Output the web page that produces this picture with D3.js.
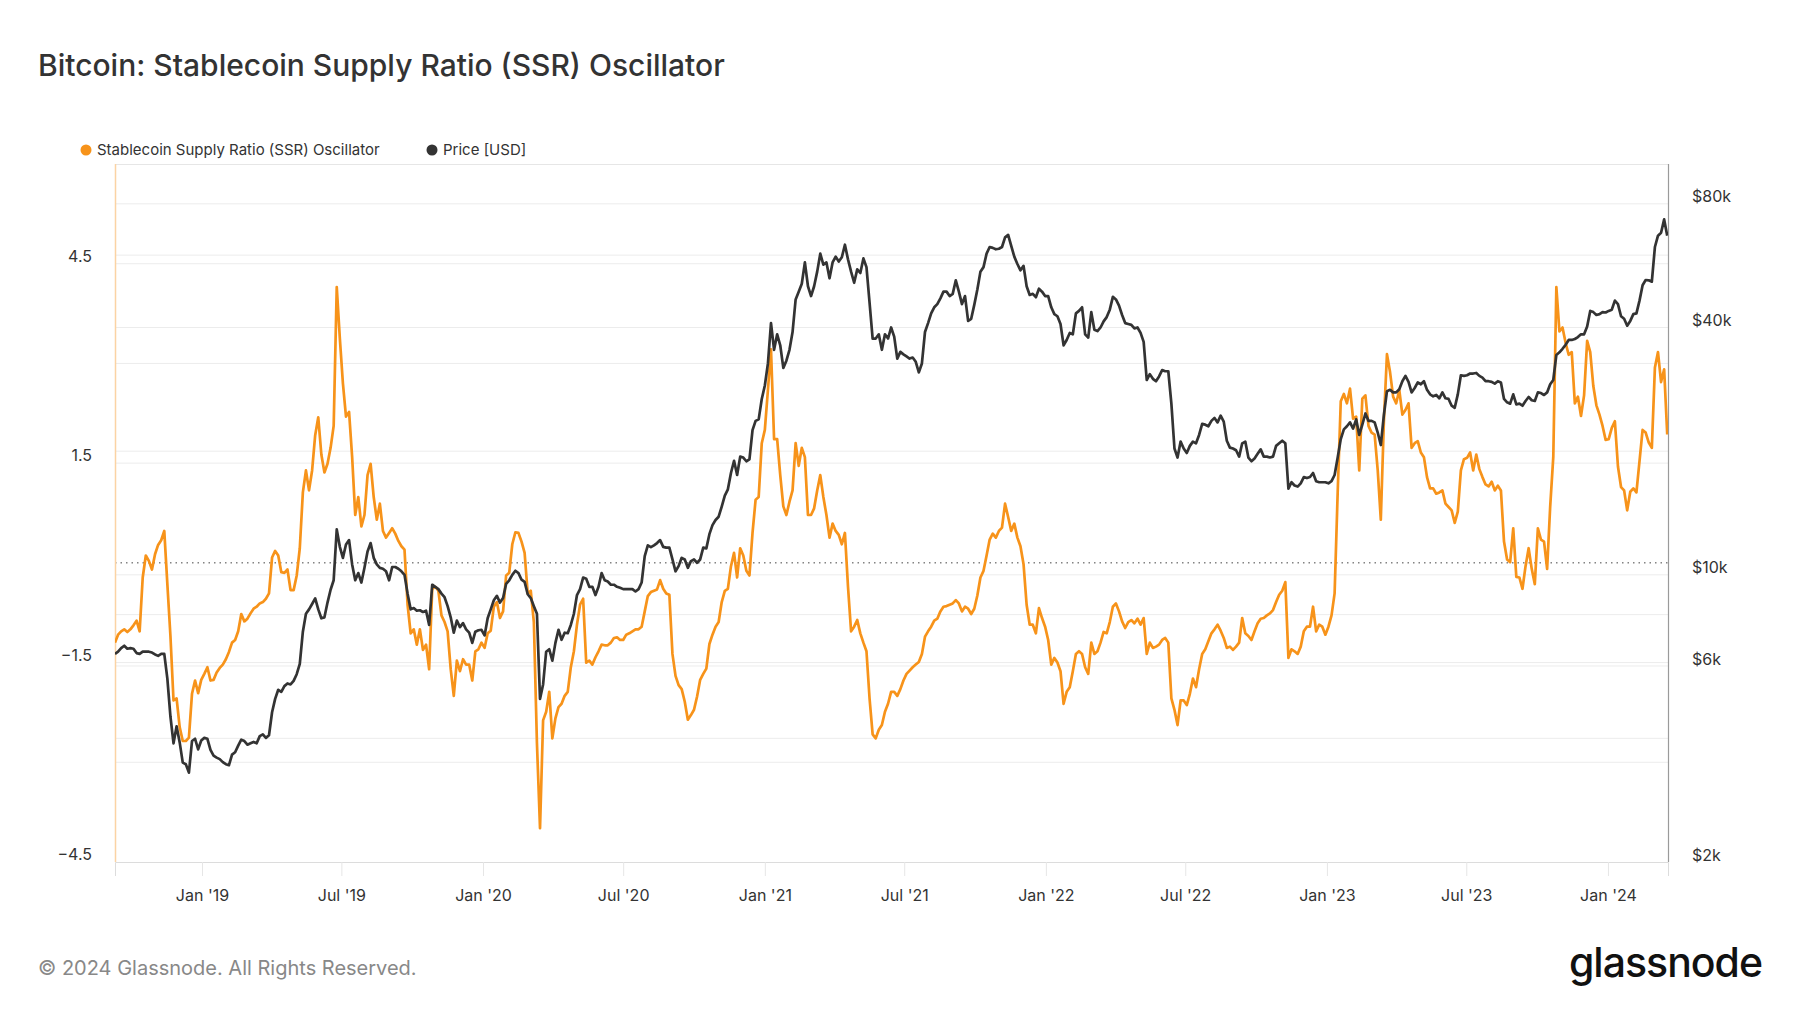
<!DOCTYPE html>
<html><head><meta charset="utf-8">
<script src="https://cdn.jsdelivr.net/npm/d3@7"></script>
<style>
html,body{margin:0;padding:0;background:#fff;}
svg{display:block;font-family:Inter,"Noto Sans",sans-serif;}
</style></head><body>
<svg id="chart" width="1800" height="1013"></svg>
<script>
// ---- data (sampled every 4 days from the start date) ----
const startDate = "2018-09-10";
const endDate = "2024-03-19";
const stepDays = 4;

const ssrValues = [
-1.20,-1.08,-1.03,-1.00,-1.04,-1.00,-0.94,-0.87,-1.03,-0.22,
0.11,0.03,-0.10,0.13,0.27,0.34,0.48,-0.32,-1.10,-2.07,
-2.04,-2.47,-2.68,-2.68,-2.63,-1.97,-1.77,-1.96,-1.76,-1.67,
-1.57,-1.77,-1.76,-1.65,-1.58,-1.53,-1.45,-1.34,-1.20,-1.16,
-1.03,-0.77,-0.88,-0.84,-0.76,-0.69,-0.66,-0.61,-0.59,-0.54,
-0.46,0.08,0.18,0.11,-0.14,-0.15,-0.10,-0.41,-0.41,-0.19,
0.22,1.06,1.39,1.09,1.39,1.92,2.19,1.63,1.36,1.49,
1.73,2.06,4.15,3.38,2.70,2.20,2.27,1.59,0.72,0.99,
0.55,0.72,1.32,1.49,0.99,0.65,0.89,0.48,0.38,0.45,
0.52,0.44,0.33,0.25,0.20,-0.63,-1.06,-1.00,-1.23,-1.00,
-1.31,
-1.23,-1.60,-0.39,-0.36,-0.42,-0.79,-0.89,-1.03,-1.60,-2.00,
-1.47,-1.63,-1.45,-1.53,-1.53,-1.77,-1.33,-1.30,-1.20,-1.28,
-1.06,-1.02,-0.66,-0.59,-0.83,-0.73,-0.19,-0.15,0.28,0.46,
0.45,0.32,0.15,-0.46,-0.42,-0.89,-2.71,-3.99,-2.37,-2.24,
-1.94,-2.64,-2.34,-2.17,-2.12,-2.00,-1.94,-1.57,-1.33,-0.93,
-0.63,-0.54,-1.50,-1.47,-1.53,-1.42,-1.33,-1.23,-1.24,-1.24,
-1.20,-1.13,-1.12,-1.16,-1.16,-1.08,-1.06,-1.03,-1.00,-1.00,
-0.96,-0.73,-0.50,-0.44,-0.42,-0.40,-0.26,-0.39,-0.46,-0.48,
-1.37,-1.70,-1.84,-1.90,-2.09,-2.36,-2.29,-2.21,-2.01,-1.76,
-1.67,-1.59,-1.22,-1.08,-0.96,-0.89,-0.59,-0.42,-0.39,-0.05,
0.15,
-0.22,0.22,0.11,-0.12,-0.19,0.45,0.95,0.99,1.80,2.00,
2.60,3.21,1.86,1.86,1.32,0.85,0.72,0.92,1.09,1.80,
1.46,1.73,1.59,0.72,0.72,0.82,1.09,1.32,0.99,0.72,
0.38,0.59,0.48,0.42,0.28,0.45,-0.36,-1.03,-0.96,-0.86,
-1.06,-1.20,-1.33,-2.04,-2.58,-2.64,-2.51,-2.44,-2.24,-2.12,
-1.94,-1.94,-2.00,-1.90,-1.77,-1.67,-1.62,-1.57,-1.53,-1.49,
-1.37,-1.11,-1.03,-0.96,-0.87,-0.84,-0.73,-0.66,-0.65,-0.63,
-0.61,-0.56,-0.61,-0.73,-0.66,-0.69,-0.77,-0.69,-0.49,-0.22,
-0.12,0.11,0.35,0.44,0.38,0.48,0.53,0.89,0.69,0.48,
0.59,0.38,0.25,-0.02,-0.63,-0.93,-0.93,-1.06,-0.68,-0.83,
-0.96,-1.16,-1.53,-1.43,-1.50,-1.63,-2.12,-1.94,-1.87,-1.63,
-1.37,-1.33,-1.37,-1.57,-1.67,-1.20,-1.37,-1.33,-1.20,-1.04,
-1.06,-0.89,-0.66,-0.61,-0.73,-0.88,-0.98,-0.89,-0.86,-0.91,
-0.84,-0.93,-0.83,-1.37,-1.20,-1.28,-1.26,-1.23,-1.16,-1.13,
-1.20,-2.04,-2.21,-2.44,-2.07,-2.07,-2.14,-1.97,-1.74,-1.87,
-1.60,-1.37,-1.30,-1.18,-1.06,-1.00,-0.93,-1.02,-1.13,-1.28,
-1.26,-1.31,-1.26,-1.20,-0.83,-1.06,-1.10,-1.16,-1.03,-0.91,
-0.84,-0.83,-0.79,-0.76,-0.71,-0.59,-0.48,-0.42,-0.29,-1.43,
-1.30,-1.33,-1.37,-1.26,-1.03,-0.96,-0.96,-0.66,-1.03,-0.93,
-0.96,-1.08,-0.96,-0.79,-0.46,1.06,2.43,2.54,2.40,2.62,
2.17,
2.20,1.39,2.47,2.52,2.06,1.96,1.93,1.39,0.65,2.13,
3.14,2.87,2.50,2.40,2.60,2.23,2.30,2.40,1.73,1.80,
1.83,1.66,1.59,1.29,1.12,1.12,1.04,1.06,1.09,0.89,
0.84,0.79,0.60,0.77,1.39,1.56,1.58,1.66,1.39,1.63,
1.41,1.29,1.18,1.15,1.22,1.09,1.16,1.09,0.32,0.05,
0.01,0.52,-0.21,-0.22,-0.39,-0.05,0.22,-0.09,-0.32,0.52,
0.35,0.32,-0.09,0.85,1.59,4.15,3.48,3.54,3.31,3.13,
3.17,2.40,2.50,2.21,2.52,3.34,3.17,2.66,2.37,2.23,
2.06,1.85,1.86,2.03,2.13,1.45,1.14,1.09,0.79,1.07,
1.12,1.06,1.53,2.00,1.96,1.81,1.73,2.94,3.17,2.72,
2.91,1.93
];

const priceValues = [
6420,6500,6630,6720,6610,6630,6610,6450,6420,6500,
6500,6500,6470,6400,6350,6420,6420,5590,4520,3890,
4280,3910,3490,3460,3300,3940,3990,3760,3950,4010,
3990,3750,3630,3590,3560,3500,3460,3440,3650,3700,
3840,3970,3940,3860,3890,3920,3890,4050,4090,4010,
4070,4630,4990,5250,5190,5360,5440,5410,5520,5730,
6070,7270,8040,8240,8490,8760,8240,7840,7880,8560,
9200,9700,12900,11700,11000,11850,12150,10600,9700,10100,
9580,10400,11400,11950,11000,10600,10400,10350,10200,9700,
10450,10450,10350,10200,10000,9000,8240,8300,8180,8200,
8120,
8180,7550,9460,9350,9230,9000,8820,8390,7880,7230,
7740,7460,7630,7370,7230,6830,7270,7330,7350,7120,
7840,8240,8670,8890,8560,8780,9510,9700,10000,10230,
10100,9730,9610,8970,8780,8390,8040,4990,5410,6500,
6590,6180,6830,7350,6950,7230,7210,7550,8040,8930,
9230,9850,9780,9350,9350,8930,9350,10100,9700,9630,
9460,9460,9350,9300,9230,9230,9230,9230,9110,9230,
9580,11100,11800,11680,11800,11950,12150,11700,11650,11650,
10900,10200,10500,11000,10900,10400,10800,10900,10700,10900,
11650,11600,12560,13210,13600,13850,14660,15590,16150,17700,
18950,
17500,19400,19300,18900,19100,22500,23700,23900,26800,28900,
32700,41000,35300,38500,36200,31900,33200,35300,39000,46800,
48900,51100,57600,50400,47700,50400,54700,60500,56900,57600,
52700,57600,59500,57900,59300,63600,58600,54700,51400,55400,
54300,58900,56100,46000,37600,37600,38500,35300,38500,37600,
40000,38000,33600,34900,34400,34000,33600,33800,33000,31100,
32700,39000,41000,43300,44800,45600,47100,48900,48900,47700,
48300,52100,48900,45600,47700,41500,42000,45400,49500,54700,
56100,60500,62800,62500,62000,62200,62800,66300,67200,63200,
59500,57100,55100,56500,50400,48000,48300,47400,49700,48900,
47700,47700,44800,43100,42600,40800,36200,37300,38800,38500,
43300,43900,44800,38500,37800,43600,39500,39200,40000,41400,
42400,44200,47500,46800,45200,42900,41000,40800,40600,39800,
40000,38800,36900,29800,30800,30000,29600,30400,31500,31300,
31300,26100,20300,19300,21100,20300,19800,20600,21100,20900,
21900,23300,23200,23000,23700,24100,23500,24400,23600,21200,
20400,20300,20100,19400,20900,21100,19300,18900,19200,19700,
20200,19400,19400,19300,19400,20600,20900,21200,20900,16200,
16800,16500,16400,16700,17300,17200,17300,17700,16900,16800,
16800,16800,16700,16900,17500,19300,21400,22600,23000,23500,
22700,
23900,21900,23200,24700,23700,23700,23500,22200,20700,24500,
28000,28200,27800,27800,28300,29600,30500,29500,27800,28500,
29400,29100,29600,28200,27500,27200,27400,26900,27800,26900,
26800,25800,25500,27500,30600,30500,30600,30900,30900,31000,
30500,30200,29600,29600,29500,29200,29600,29400,26800,26300,
26100,27500,26000,26100,25800,26500,27100,26600,26500,27800,
27700,27400,27800,29100,29800,34300,34800,35500,36300,37300,
37300,37500,37900,38500,38500,40200,43900,43600,42900,43100,
43600,43500,43900,44200,46500,45600,42600,42000,40400,41500,
43100,43300,46500,50700,52200,52100,51700,62800,66900,68000,
73300,66900
];

const leftGridValues = [-3, -1.5, 1.5, 3, 4.5];
const leftLabelValues = [4.5, 1.5, -1.5, -4.5];
const rightGridValues = [4000, 6000, 8000, 10000, 20000, 40000, 60000, 80000];
const rightLabelValues = [80000, 40000, 10000, 6000, 2000];
const xTickDates = ["2019-01-01","2019-07-01","2020-01-01","2020-07-01","2021-01-01","2021-07-01",
  "2022-01-01","2022-07-01","2023-01-01","2023-07-01","2024-01-01"];

const titleText = "Bitcoin: Stablecoin Supply Ratio (SSR) Oscillator";
const seriesNames = ["Stablecoin Supply Ratio (SSR) Oscillator", "Price [USD]"];
const seriesColors = ["#f7931a", "#333333"];

// ---- chart ----
const svg = d3.select("#chart");
const P = {l:115, r:1668, t:164, b:862};
const parse = d3.utcParse("%Y-%m-%d");
const t0 = parse(startDate);

const ssr = ssrValues.map((v,i)=>({date:d3.utcDay.offset(t0, i*stepDays), v}));
const price = priceValues.map((v,i)=>({date:d3.utcDay.offset(t0, i*stepDays), v}));

const x = d3.scaleUtc().domain([t0, parse(endDate)]).range([P.l, P.r]);
const yL = d3.scaleLinear().domain([-4.5, 6]).range([P.b, P.t]);
const yR = d3.scaleLog().domain([2000, 100000]).range([P.b, P.t]);

// title
svg.append("text").attr("x",38).attr("y",76).attr("font-size",30).attr("font-weight",500)
  .attr("fill","#333").text(titleText);

// legend
const lg = [{x:86,name:seriesNames[0],c:seriesColors[0]},{x:432,name:seriesNames[1],c:seriesColors[1]}];
lg.forEach(d=>{
  svg.append("circle").attr("cx",d.x).attr("cy",150).attr("r",5.5).attr("fill",d.c);
  svg.append("text").attr("x",d.x+11).attr("y",155).attr("font-size",15).attr("fill","#333").text(d.name);
});

// grid
const g = svg.append("g");
leftGridValues.forEach(v=>{
  g.append("line").attr("x1",P.l).attr("x2",P.r).attr("y1",yL(v)).attr("y2",yL(v))
   .attr("stroke","#ececec").attr("stroke-width",1);
});
rightGridValues.forEach(v=>{
  g.append("line").attr("x1",P.l).attr("x2",P.r).attr("y1",yR(v)).attr("y2",yR(v))
   .attr("stroke","#ececec").attr("stroke-width",1);
});
// top border
g.append("line").attr("x1",P.l).attr("x2",P.r).attr("y1",P.t+0.5).attr("y2",P.t+0.5).attr("stroke","#e6e6e6");
// zero dotted line
g.append("line").attr("x1",P.l).attr("x2",P.r).attr("y1",yL(0)).attr("y2",yL(0))
  .attr("stroke","#444").attr("stroke-width",1).attr("stroke-dasharray","1.5,4");

// x axis
const xAxis = d3.axisBottom(x).tickValues(xTickDates.map(parse))
  .tickFormat(d3.utcFormat("%b '%y")).tickSize(14).tickPadding(14);
const xa = svg.append("g").attr("transform",`translate(0,${P.b})`).call(xAxis);
xa.select(".domain").attr("stroke","#dcdcdc");
xa.selectAll(".tick line").attr("stroke","#e6e6e6");
xa.selectAll(".tick text").attr("font-size",16).attr("fill","#333").attr("font-family","Inter,'Noto Sans',sans-serif");

// left / right axis lines
svg.append("line").attr("x1",P.l+0.5).attr("x2",P.l+0.5).attr("y1",P.t).attr("y2",P.b)
  .attr("stroke","#fbd3a4").attr("stroke-width",1.5);
svg.append("line").attr("x1",P.r+0.5).attr("x2",P.r+0.5).attr("y1",P.t).attr("y2",P.b)
  .attr("stroke","#9a9a9a").attr("stroke-width",1.2);

// axis labels
const yLa = d3.axisLeft(yL).tickValues(leftLabelValues).tickFormat(d3.format(".1f")).tickSize(0).tickPadding(23);
const la = svg.append("g").attr("transform",`translate(${P.l},0)`).call(yLa);
la.select(".domain").remove();
la.selectAll(".tick text").attr("font-size",16).attr("fill","#333").attr("dy","-0.15em")
  .attr("font-family","Inter,'Noto Sans',sans-serif");

const yRa = d3.axisRight(yR).tickValues(rightLabelValues).tickFormat(v=>"$"+(v/1000)+"k").tickSize(0).tickPadding(24);
const ra = svg.append("g").attr("transform",`translate(${P.r},0)`).call(yRa);
ra.select(".domain").remove();
ra.selectAll(".tick text").attr("font-size",16).attr("fill","#333").attr("dy","-0.12em")
  .attr("font-family","Inter,'Noto Sans',sans-serif");

// lines
svg.append("clipPath").attr("id","clip").append("rect")
  .attr("x",P.l).attr("y",P.t).attr("width",P.r-P.l).attr("height",P.b-P.t);
const lineL = d3.line().x(d=>x(d.date)).y(d=>yL(d.v));
const lineR = d3.line().x(d=>x(d.date)).y(d=>yR(d.v));
const lines = svg.append("g").attr("clip-path","url(#clip)");
lines.append("path").datum(ssr).attr("d",lineL).attr("fill","none")
  .attr("stroke",seriesColors[0]).attr("stroke-width",2.7).attr("stroke-linejoin","round");
lines.append("path").datum(price).attr("d",lineR).attr("fill","none")
  .attr("stroke",seriesColors[1]).attr("stroke-width",2.7).attr("stroke-linejoin","round");

// footer
svg.append("text").attr("x",38).attr("y",975).attr("font-size",20).attr("fill","#888")
  .text("© 2024 Glassnode. All Rights Reserved.");
svg.append("text").attr("x",1762).attr("y",977).attr("text-anchor","end").attr("font-size",41)
  .attr("font-weight",500).attr("letter-spacing",-1).attr("fill","#111").text("glassnode");
</script>
</body></html>
